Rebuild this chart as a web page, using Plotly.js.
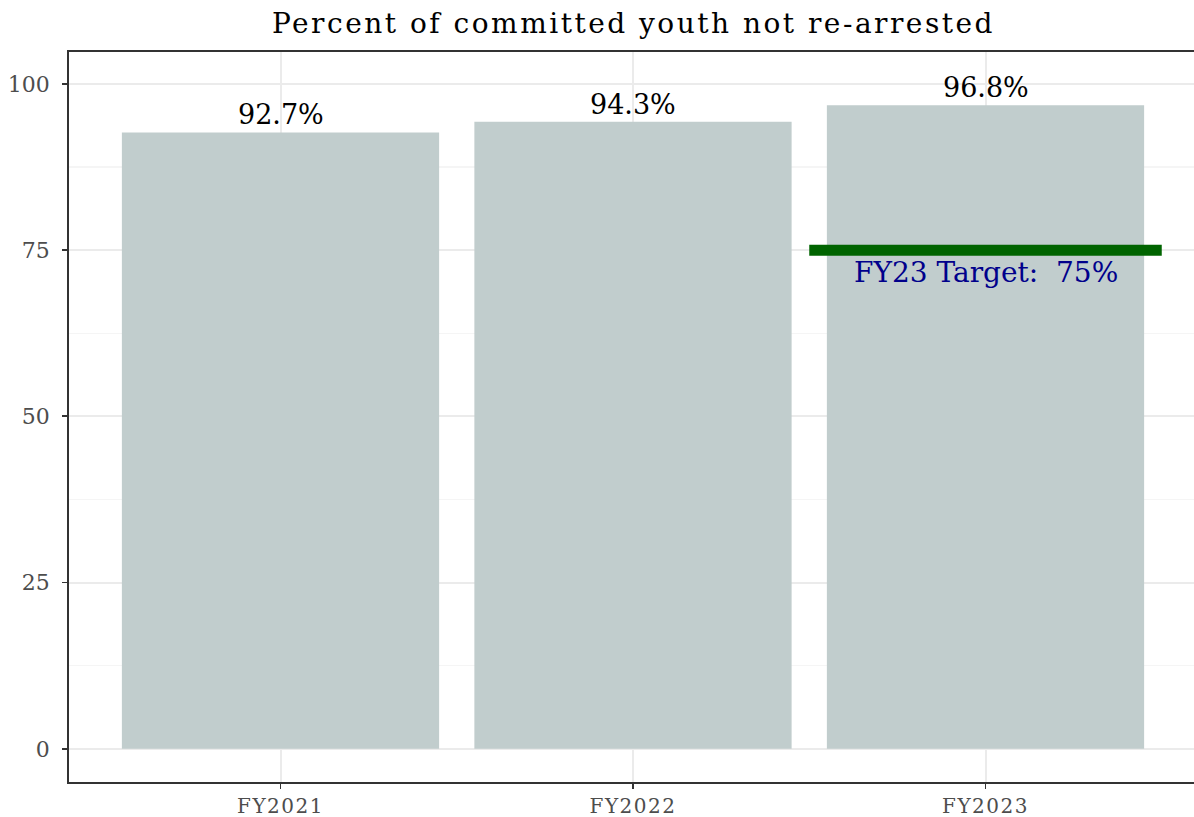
<!DOCTYPE html>
<html>
<head>
<meta charset="utf-8">
<script src="https://cdn.plot.ly/plotly-3.0.1.min.js"></script>
<style>
html,body{margin:0;padding:0;background:#fff;}
#chart{width:1194px;height:817px;}
.gtitle{letter-spacing:2.5px;}
.xtick text{letter-spacing:1.5px;}
</style>
</head>
<body>
<div id="chart"></div>
<script>
const categories = ["FY2021", "FY2022", "FY2023"];
const values = [92.7, 94.3, 96.8];
const targetLabel = "FY23 Target:\u00a0 75%";
const targetValue = 75;
const targetCategory = "FY2023";
const chartTitle = "Percent of committed youth not re-arrested";
const yTickVals = [0, 25, 50, 75, 100];

const FONT = "DejaVu Serif, Liberation Serif, serif";
const tIdx = categories.indexOf(targetCategory);

const barTrace = {
  type: "bar",
  x: categories,
  y: values,
  width: 0.9,
  marker: {color: "#C1CDCD"},
  hoverinfo: "x+y",
  showlegend: false
};

const annotations = values.map((v, i) => ({
  x: categories[i], y: v, xref: "x", yref: "y",
  text: v.toFixed(1) + "%",
  showarrow: false, yanchor: "bottom", yshift: 0,
  font: {family: FONT, size: 27, color: "#000000"}
}));
annotations.push({
  x: tIdx, y: targetValue, xref: "x", yref: "y",
  text: targetLabel, showarrow: false, yanchor: "top", yshift: -4,
  font: {family: FONT, size: 28, color: "#00008B"}
});

const layout = {
  width: 1194, height: 817,
  margin: {l: 69, r: 0, t: 52, b: 35},
  paper_bgcolor: "#ffffff", plot_bgcolor: "#ffffff",
  font: {family: FONT, color: "#4D4D4D"},
  title: {
    text: chartTitle, x: 633.5 / 1194, xref: "container", xanchor: "center",
    y: 1 - 23 / 817, yanchor: "middle",
    font: {family: FONT, size: 28, color: "#000000"}
  },
  xaxis: {
    type: "category", range: [-0.6, 2.5915],
    showline: true, linecolor: "#333333", linewidth: 1.8, mirror: true,
    ticks: "outside", ticklen: 5, tickwidth: 1.8, tickcolor: "#333333",
    ticklabelstandoff: 0,
    showgrid: true, gridcolor: "#EBEBEB", gridwidth: 2,
    tickfont: {family: FONT, size: 20, color: "#4D4D4D"},
    zeroline: false, fixedrange: true
  },
  yaxis: {
    range: [-4.99, 104.8],
    tickvals: yTickVals, ticktext: yTickVals.map(String),
    showline: true, linecolor: "#333333", linewidth: 1.8,
    ticks: "outside", ticklen: 5, tickwidth: 1.8, tickcolor: "#333333",
    ticklabelstandoff: 8,
    showgrid: true, gridcolor: "#EBEBEB", gridwidth: 2,
    minor: {tickvals: [12.5, 37.5, 62.5, 87.5], showgrid: true, gridcolor: "#F5F5F5", gridwidth: 1.2, ticks: ""},
    tickfont: {family: FONT, size: 22, color: "#4D4D4D"},
    zeroline: false, fixedrange: true
  },
  shapes: [{
    type: "line", xref: "x", yref: "y",
    x0: tIdx - 0.5, x1: tIdx + 0.5, y0: targetValue, y1: targetValue,
    line: {color: "#006400", width: 11}
  }],
  annotations: annotations,
  bargap: 0.1
};

Plotly.newPlot("chart", [barTrace], layout, {displayModeBar: false, staticPlot: true});
</script>
</body>
</html>
